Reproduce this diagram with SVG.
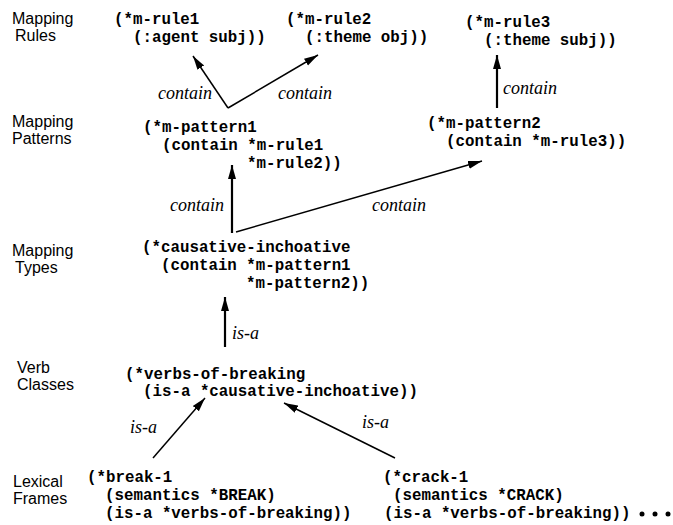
<svg xmlns="http://www.w3.org/2000/svg" width="673" height="525" viewBox="0 0 673 525">
<style>
.lbl{font-family:"Liberation Sans",Arial,sans-serif;font-size:16px;fill:#000}
.code{font-family:"Liberation Mono","Courier New",monospace;font-size:15.8px;font-weight:bold;fill:#000;white-space:pre}
.rel{font-family:"Liberation Serif","Times New Roman",serif;font-size:18px;font-style:italic;fill:#000}
.edge{stroke:#000;stroke-width:1.5;fill:none;marker-end:url(#ah)}
.thick{stroke-width:2.2}
</style>
<defs>
<marker id="ah" markerUnits="userSpaceOnUse" markerWidth="16" markerHeight="10" refX="14" refY="5" orient="auto">
<path d="M0,1 L14,5 L0,9 Z" fill="#000"/>
</marker>
</defs>
<rect width="673" height="525" fill="#fff"/>
<g id="levels">
<text class="lbl" x="12" y="24">Mapping</text><text class="lbl" x="15" y="41">Rules</text>
<text class="lbl" x="12" y="127">Mapping</text><text class="lbl" x="12" y="144">Patterns</text>
<text class="lbl" x="12" y="256">Mapping</text><text class="lbl" x="15" y="273">Types</text>
<text class="lbl" x="17" y="373">Verb</text><text class="lbl" x="17" y="390">Classes</text>
<text class="lbl" x="13" y="487">Lexical</text><text class="lbl" x="13" y="504">Frames</text>
</g>
<g id="connectors">
<line class="edge" x1="228" y1="108" x2="193" y2="56"/>
<line class="edge" x1="228" y1="108" x2="318" y2="55"/>
<line class="edge thick" x1="497" y1="108" x2="497" y2="55"/>
<line class="edge thick" x1="232" y1="233" x2="232" y2="165"/>
<line class="edge" x1="236" y1="232" x2="482" y2="161"/>
<line class="edge thick" x1="225" y1="347" x2="225" y2="297"/>
<line class="edge" x1="153" y1="458" x2="205" y2="398"/>
<line class="edge" x1="395" y1="458" x2="284" y2="403"/>
<text class="rel" x="158" y="99">contain</text>
<text class="rel" x="278" y="99">contain</text>
<text class="rel" x="503" y="94">contain</text>
<text class="rel" x="170" y="211">contain</text>
<text class="rel" x="372" y="211">contain</text>
<text class="rel" x="232" y="339">is-a</text>
<text class="rel" x="130" y="433">is-a</text>
<text class="rel" x="362" y="428">is-a</text>
</g>
<g id="m-rule1"><text class="code" x="114" y="24">(*m-rule1</text><text class="code" x="133" y="42">(:agent subj))</text></g>
<g id="m-rule2"><text class="code" x="286" y="24">(*m-rule2</text><text class="code" x="305" y="42">(:theme obj))</text></g>
<g id="m-rule3"><text class="code" x="465" y="27">(*m-rule3</text><text class="code" x="484" y="45">(:theme subj))</text></g>
<g id="m-pattern1"><text class="code" x="143" y="132">(*m-pattern1</text><text class="code" x="162" y="150">(contain *m-rule1</text><text class="code" x="247" y="168">*m-rule2))</text></g>
<g id="m-pattern2"><text class="code" x="427" y="128">(*m-pattern2</text><text class="code" x="446" y="146">(contain *m-rule3))</text></g>
<g id="causative-inchoative"><text class="code" x="142" y="252">(*causative-inchoative</text><text class="code" x="161" y="270">(contain *m-pattern1</text><text class="code" x="246" y="288">*m-pattern2))</text></g>
<g id="verbs-of-breaking"><text class="code" x="125" y="379">(*verbs-of-breaking</text><text class="code" x="143" y="396">(is-a *causative-inchoative))</text></g>
<g id="break-1"><text class="code" x="87" y="482">(*break-1</text><text class="code" x="105" y="500">(semantics *BREAK)</text><text class="code" x="105" y="518">(is-a *verbs-of-breaking))</text></g>
<g id="crack-1"><text class="code" x="383" y="482">(*crack-1</text><text class="code" x="393" y="500">(semantics *CRACK)</text><text class="code" x="384" y="518">(is-a *verbs-of-breaking))</text>
<circle cx="642" cy="514" r="2.5"/><circle cx="655" cy="514" r="2.5"/><circle cx="668" cy="514" r="2.5"/></g>
</svg>
